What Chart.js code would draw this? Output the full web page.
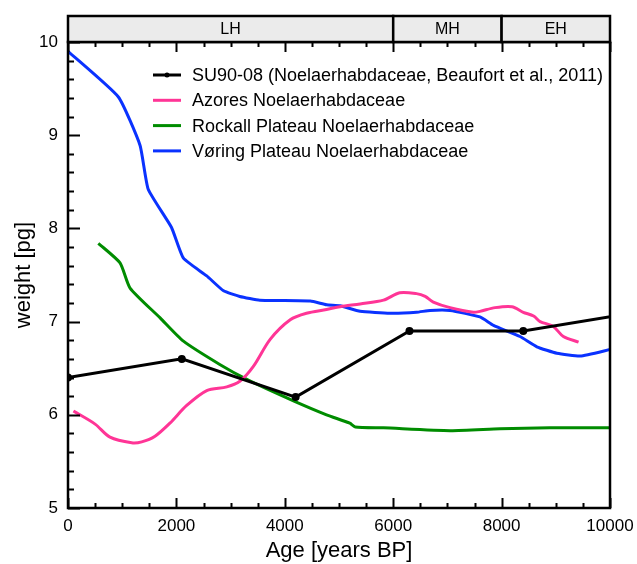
<!DOCTYPE html>
<html>
<head>
<meta charset="utf-8">
<script src="https://cdn.jsdelivr.net/npm/chart.js@4"></script>
<style>
  html, body { margin: 0; padding: 0; background: #fff; }
  #wrap { width: 637px; height: 564px; }
</style>
</head>
<body>
<div id="wrap"><canvas id="weightChart" width="637" height="564"></canvas></div>
<script>
// Series (age in years BP, weight in pg)
const su90Ages = [0, 2100, 4200, 6300, 8400, 10500];
const su90Weights = [6.4, 6.6, 6.19, 6.9, 6.9, 7.1];

const azoresAges = [100, 500, 775, 1175, 1360, 1605, 1880, 2190, 2560, 2930, 3170, 3420, 3730, 4100, 4400, 4770, 5020, 5390, 5820, 6120, 6430, 6590, 6740, 7050, 7480, 7600, 7880, 8190, 8400, 8590, 8710, 8950, 9140, 9420];
const azoresWeights = [6.04, 5.9, 5.76, 5.7, 5.71, 5.77, 5.91, 6.1, 6.26, 6.3, 6.36, 6.52, 6.81, 7.02, 7.09, 7.13, 7.16, 7.19, 7.23, 7.31, 7.3, 7.27, 7.21, 7.15, 7.1, 7.11, 7.15, 7.16, 7.1, 7.06, 7.0, 6.95, 6.84, 6.78];

const rockallAges = [560, 960, 1145, 1700, 2130, 2800, 3300, 4160, 4770, 5200, 5300, 5820, 7050, 7970, 8890, 10000];
const rockallWeights = [7.84, 7.63, 7.36, 7.04, 6.79, 6.54, 6.38, 6.15, 6.0, 5.91, 5.87, 5.86, 5.83, 5.85, 5.86, 5.86];

const voringAges = [0, 930, 1330, 1480, 1910, 2130, 2560, 2870, 3170, 3540, 4470, 4770, 5020, 5390, 5940, 6430, 6680, 7050, 7600, 7850, 8340, 8650, 9020, 9450, 10000];
const voringWeights = [9.9, 9.41, 8.89, 8.42, 8.01, 7.68, 7.49, 7.33, 7.27, 7.23, 7.22, 7.18, 7.17, 7.11, 7.09, 7.1, 7.12, 7.12, 7.05, 6.96, 6.84, 6.73, 6.66, 6.63, 6.7];

// Holocene periods shown in the band above the plot
const periodNames = ["LH", "MH", "EH"];
const periodStarts = [0, 6000, 8000];
const periodEnds = [6000, 8000, 10000];

const xMajorStep = 2000, xMinorStep = 500;
const yMajorStep = 1, yMinorStep = 0.2;

const FONT = "'Liberation Sans', Arial, Helvetica, sans-serif";

function toPoints(xs, ys) {
    return xs.map((x, i) => ({ x: x, y: ys[i] }));
}

// Period band (LH / MH / EH) drawn above the chart area
const periodBand = {
    id: 'periodBand',
    afterDraw(chart) {
        const { ctx, chartArea, scales } = chart;
        const top = 16, bottom = chartArea.top;
        ctx.save();
        ctx.lineWidth = 2.5;
        ctx.strokeStyle = '#000';
        ctx.font = '16px ' + FONT;
        ctx.textAlign = 'center';
        ctx.textBaseline = 'middle';
        periodNames.forEach((name, i) => {
            const x0 = scales.x.getPixelForValue(periodStarts[i]);
            const x1 = scales.x.getPixelForValue(periodEnds[i]);
            ctx.fillStyle = '#ebebeb';
            ctx.fillRect(x0, top, x1 - x0, bottom - top);
            ctx.strokeRect(x0, top, x1 - x0, bottom - top);
            ctx.fillStyle = '#000';
            ctx.fillText(name, (x0 + x1) / 2, (top + bottom) / 2 + 1);
        });
        ctx.restore();
    }
};

// Inward tick marks and frame
const innerTicks = {
    id: 'innerTicks',
    afterDatasetsDraw(chart) {
        const { ctx, chartArea: a, scales } = chart;
        ctx.save();
        ctx.strokeStyle = '#000';
        ctx.lineWidth = 2;
        ctx.beginPath();
        for (let v = 0; v <= 10000; v += xMinorStep) {
            const px = Math.round(scales.x.getPixelForValue(v)) + 0.5;
            const len = v % xMajorStep === 0 ? 10 : 5;
            ctx.moveTo(px, a.bottom); ctx.lineTo(px, a.bottom - len);
            ctx.moveTo(px, a.top); ctx.lineTo(px, a.top + len);
        }
        for (let i = 0; i <= 25; i++) {
            const v = 5 + i * yMinorStep;
            const py = Math.round(scales.y.getPixelForValue(v)) + 0.5;
            const len = i % 5 === 0 ? 12 : 6;
            ctx.moveTo(a.left, py); ctx.lineTo(a.left + len, py);
        }
        ctx.stroke();
        ctx.lineWidth = 2.5;
        ctx.strokeRect(a.left, a.top, a.right - a.left, a.bottom - a.top);
        ctx.restore();
    }
};

// Legend inside the plot, one entry per row
const innerLegend = {
    id: 'innerLegend',
    afterDraw(chart) {
        const { ctx } = chart;
        const x0 = 153, y0 = 75, rowH = 25.3;
        ctx.save();
        ctx.font = '18px ' + FONT;
        ctx.textBaseline = 'middle';
        ctx.textAlign = 'left';
        chart.data.datasets.forEach((ds, i) => {
            const y = y0 + i * rowH;
            ctx.strokeStyle = ds.borderColor;
            ctx.lineWidth = 3;
            ctx.beginPath();
            ctx.moveTo(x0, y); ctx.lineTo(x0 + 28, y);
            ctx.stroke();
            if (ds.pointRadius > 0) {
                ctx.fillStyle = ds.borderColor;
                ctx.beginPath();
                ctx.arc(x0 + 14, y, 2.5, 0, Math.PI * 2);
                ctx.fill();
            }
            ctx.fillStyle = '#000';
            ctx.fillText(ds.label, x0 + 39, y + 1);
        });
        ctx.restore();
    }
};

new Chart(document.getElementById('weightChart'), {
    type: 'line',
    data: {
        datasets: [
            {
                label: 'SU90-08 (Noelaerhabdaceae, Beaufort et al., 2011)',
                data: toPoints(su90Ages, su90Weights),
                borderColor: '#000000',
                backgroundColor: '#000000',
                borderWidth: 3,
                pointRadius: 2.5,
                pointHoverRadius: 2.5
            },
            {
                label: 'Azores Noelaerhabdaceae',
                data: toPoints(azoresAges, azoresWeights),
                borderColor: '#ff3596',
                borderWidth: 3,
                pointRadius: 0,
                tension: 0.3
            },
            {
                label: 'Rockall Plateau Noelaerhabdaceae',
                data: toPoints(rockallAges, rockallWeights),
                borderColor: '#008c00',
                borderWidth: 3,
                pointRadius: 0,
                tension: 0.2
            },
            {
                label: 'Vøring Plateau Noelaerhabdaceae',
                data: toPoints(voringAges, voringWeights),
                borderColor: '#0a32ff',
                borderWidth: 3,
                pointRadius: 0,
                tension: 0.15
            }
        ]
    },
    options: {
        responsive: false,
        animation: false,
        layout: { padding: { top: 42, right: 27, left: 0, bottom: 0 } },
        plugins: {
            legend: { display: false },
            tooltip: { enabled: false }
        },
        scales: {
            x: {
                type: 'linear',
                min: 0,
                max: 10000,
                ticks: {
                    stepSize: xMajorStep,
                    color: '#000',
                    padding: 8,
                    maxRotation: 0,
                    font: { family: FONT, size: 17 },
                    callback: v => String(v)
                },
                grid: { display: false, drawTicks: false },
                border: { display: false },
                title: {
                    display: true,
                    text: 'Age [years BP]',
                    color: '#000',
                    padding: { top: 0, bottom: 0 },
                    font: { family: FONT, size: 22 }
                },
                afterFit(scale) {
                    scale.height = 56;
                    scale.paddingLeft = 0;
                    scale.paddingRight = 0;
                }
            },
            y: {
                type: 'linear',
                min: 5,
                max: 10,
                ticks: {
                    stepSize: yMajorStep,
                    color: '#000',
                    padding: 10,
                    font: { family: FONT, size: 17 },
                    callback: v => String(v)
                },
                grid: { display: false, drawTicks: false },
                border: { display: false },
                title: {
                    display: true,
                    text: 'weight [pg]',
                    color: '#000',
                    padding: { top: 11, bottom: 0 },
                    font: { family: FONT, size: 22 }
                },
                afterFit(scale) { scale.width = 68; }
            }
        }
    },
    plugins: [periodBand, innerTicks, innerLegend]
});
</script>
</body>
</html>
